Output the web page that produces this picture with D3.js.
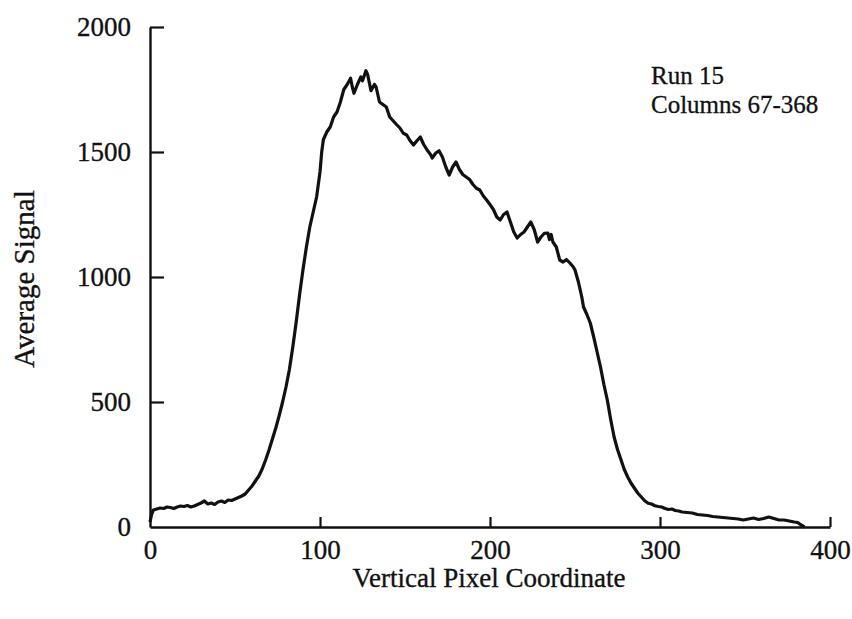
<!DOCTYPE html>
<html>
<head>
<meta charset="utf-8">
<script src="https://cdn.jsdelivr.net/npm/d3@7"></script>
<style>
  html, body { margin: 0; padding: 0; background: #fff; }
  svg { display: block; }
  text { font-family: "Liberation Serif", "Times New Roman", serif; fill: #111; }
</style>
</head>
<body>
<svg id="chart" width="852" height="619"></svg>
<script>
// ---- data ----
const pixelCoord = [0,1,2,4,6,8,10,12,14,16,18,20,22,24,26,28,30,32,34,36,38,40,42,44,46,48,50,52,54,56,58,60,62,64,66,68,70,72,74,76,78,80,82,84,86,88,90,92,94,96,98,100,101,102,104,106,108,110,112,114,116,118,119,120,122,124,125,127,128,130,132,133,135,137,139,141,143,145,147,149,151,153,155,157,159,161,163,165,166,168,170,172,174,176,178,180,182,184,186,188,190,192,194,196,198,200,202,204,206,208,210,212,214,216,218,220,222,224,226,228,230,232,234,235,236,237,239,241,243,245,247,249,250,252,254,255,257,259,261,263,265,267,269,271,273,275,277,279,281,283,285,287,289,291,293,295,297,299,301,303,305,307,309,311,313,316,319,322,325,328,331,334,337,340,343,346,349,352,355,358,361,364,367,370,373,376,379,381,383,385];
const avgSignal = [20,52,68,72,76,74,80,78,74,80,84,82,86,80,84,90,96,104,92,96,90,100,104,98,108,106,112,118,124,132,148,164,184,204,232,268,308,352,396,446,500,560,630,720,820,930,1030,1120,1200,1260,1320,1420,1500,1550,1580,1600,1640,1660,1700,1750,1770,1795,1760,1735,1770,1800,1785,1825,1810,1745,1770,1760,1700,1690,1680,1640,1625,1610,1596,1575,1568,1545,1528,1545,1560,1530,1508,1490,1476,1495,1505,1480,1440,1408,1440,1460,1430,1410,1400,1390,1370,1355,1348,1325,1308,1290,1270,1240,1228,1250,1260,1220,1180,1156,1170,1180,1200,1220,1190,1140,1160,1175,1176,1150,1170,1140,1120,1068,1060,1070,1056,1040,1028,980,920,880,850,816,760,700,640,570,508,430,360,310,270,230,200,175,155,135,120,105,95,92,85,82,80,74,70,72,66,64,60,58,56,50,48,46,42,40,38,36,34,32,28,32,36,30,34,40,34,28,28,24,20,18,8,0];
const xTicks = [0, 100, 200, 300, 400];
const yTicks = [0, 500, 1000, 1500, 2000];
const xTitle = "Vertical Pixel Coordinate";
const yTitle = "Average Signal";
const notes = ["Run 15", "Columns 67-368"];

// ---- layout ----
const svg = d3.select("#chart");
const x = d3.scaleLinear().domain([0, 400]).range([150, 830]);
const y = d3.scaleLinear().domain([0, 2000]).range([527, 27]);

// y axis (ticks point inward)
const yAxis = svg.append("g")
  .attr("transform", `translate(${x(0)},0)`)
  .call(d3.axisLeft(y).tickValues(yTicks).tickFormat(d3.format("d"))
        .tickSizeInner(-14).tickSizeOuter(0).tickPadding(19));
// x axis (ticks point inward)
const xAxis = svg.append("g")
  .attr("transform", `translate(0,${y(0)})`)
  .call(d3.axisBottom(x).tickValues(xTicks).tickFormat(d3.format("d"))
        .tickSizeInner(-10).tickSizeOuter(0).tickPadding(13));

[yAxis, xAxis].forEach(g => {
  g.select(".domain").attr("stroke", "#111").attr("stroke-width", 2.4);
  g.selectAll(".tick line").attr("stroke", "#111").attr("stroke-width", 2.2);
  g.selectAll(".tick text").attr("font-size", 27)
    .style("font-family", '"Liberation Serif", "Times New Roman", serif')
    .attr("fill", "#111").attr("stroke", "#111").attr("stroke-width", 0.35);
});
// hide the zero ticks overlapping the other axis
yAxis.selectAll(".tick").filter(d => d === 0).select("line").remove();
xAxis.selectAll(".tick").filter(d => d === 0).select("line").remove();

// curve
const line = d3.line()
  .x((d, i) => x(pixelCoord[i]))
  .y(d => y(d))
  .curve(d3.curveLinear);
svg.append("path")
  .datum(avgSignal)
  .attr("d", line)
  .attr("fill", "none")
  .attr("stroke", "#111")
  .attr("stroke-width", 3.2)
  .attr("stroke-linejoin", "round");

// axis titles
svg.append("text")
  .attr("x", 489).attr("y", 587)
  .attr("text-anchor", "middle")
  .attr("font-size", 27)
  .attr("stroke", "#111").attr("stroke-width", 0.35)
  .text(xTitle);
svg.append("text")
  .attr("transform", "translate(34,279) rotate(-90)")
  .attr("text-anchor", "middle")
  .attr("font-size", 29)
  .attr("stroke", "#111").attr("stroke-width", 0.35)
  .text(yTitle);

// annotation
svg.selectAll("text.note").data(notes).enter().append("text")
  .attr("class", "note")
  .attr("x", 651)
  .attr("y", (d, i) => 84 + i * 29)
  .attr("font-size", 25)
  .attr("stroke", "#111").attr("stroke-width", 0.3)
  .text(d => d);
</script>
</body>
</html>
